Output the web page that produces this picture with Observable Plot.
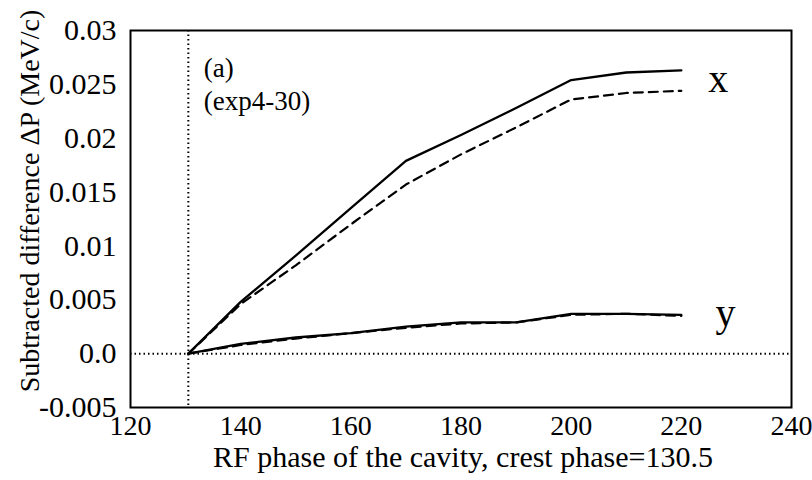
<!DOCTYPE html>
<html>
<head>
<meta charset="utf-8">
<script src="https://cdn.jsdelivr.net/npm/d3@7"></script>
<script src="https://cdn.jsdelivr.net/npm/@observablehq/plot@0.6"></script>
<style>
  html, body { margin: 0; padding: 0; background: #fff; }
  #chart svg { display: block; }
  #chart svg, #chart svg text { font-family: "Liberation Serif", "Times New Roman", serif !important; }
</style>
</head>
<body>
<div id="chart"></div>
<script>
// ---- data ----
const phase      = [130.5, 140, 150, 160, 170, 180, 190, 200, 210, 220];
const xSolid     = [0, 0.0048, 0.0091, 0.0135, 0.0179, 0.0203, 0.0228, 0.0254, 0.0261, 0.0263];
const xDashed    = [0, 0.0046, 0.0082, 0.0120, 0.0157, 0.0185, 0.0210, 0.0236, 0.0242, 0.0244];
const ySolid     = [0, 0.0009, 0.0015, 0.0019, 0.0025, 0.0029, 0.0029, 0.0037, 0.0037, 0.0036];
const yDashed    = [0, 0.0008, 0.0014, 0.0019, 0.0024, 0.0028, 0.0029, 0.0036, 0.0037, 0.0035];
const crestPhase = 130.5;

const xMajor = [120, 140, 160, 180, 200, 220, 240];
const xMinor = [130, 150, 170, 190, 210, 230];
const yMajor = [-0.005, 0, 0.005, 0.01, 0.015, 0.02, 0.025, 0.03];
const yMinor = [-0.0025, 0.0025, 0.0075, 0.0125, 0.0175, 0.0225, 0.0275];
const yTickLabels = ["-0.005", "0.0", "0.005", "0.01", "0.015", "0.02", "0.025", "0.03"];

const xLabel = "RF phase of the cavity, crest phase=130.5";
const yLabel = "Subtracted difference \u0394P (MeV/c)";
const notes = [
  {x: 133.3, y: 0.0265, text: "(a)"},
  {x: 133.3, y: 0.0234, text: "(exp4-30)"}
];
const seriesLabels = [
  {x: 226.7, y: 0.0255, text: "x"},
  {x: 228.0, y: 0.0038, text: "y"}
];

const mk = (ys) => phase.map((p, i) => ({phase: p, v: ys[i]}));

const tickShape = { draw(context, l) { context.moveTo(0, 0); context.lineTo(0, -l); } };
const FONT = "'Liberation Serif', 'Times New Roman', serif";

function ticks(data, channel, anchor, rotate, len) {
  const o = {frameAnchor: anchor, rotate, length: len, anchor: "start", shape: tickShape, stroke: "black", strokeWidth: 1.6};
  o[channel] = d => d;
  return channel === "x" ? Plot.vectorY(data, o) : Plot.vectorX(data, o);
}

const chart = Plot.plot({
  width: 812,
  height: 480,
  marginLeft: 130,
  marginRight: 21,
  marginTop: 30,
  marginBottom: 73,
  style: {fontFamily: FONT, background: "white", color: "black"},
  x: {domain: [120, 240]},
  y: {domain: [-0.005, 0.03]},
  marks: [
    // dotted reference lines
    Plot.ruleY([0], {stroke: "black", strokeWidth: 2, strokeDasharray: "1.5,3"}),
    Plot.ruleX([crestPhase], {stroke: "black", strokeWidth: 2, strokeDasharray: "1.5,3"}),
    // data
    Plot.line(mk(xSolid), {x: "phase", y: "v", stroke: "black", strokeWidth: 2.3}),
    Plot.line(mk(xDashed), {x: "phase", y: "v", stroke: "black", strokeWidth: 2.2, strokeDasharray: "9,6"}),
    Plot.line(mk(yDashed), {x: "phase", y: "v", stroke: "black", strokeWidth: 2.2, strokeDasharray: "9,6"}),
    Plot.line(mk(ySolid), {x: "phase", y: "v", stroke: "black", strokeWidth: 2.3}),
    // frame and inward ticks
    Plot.frame({stroke: "black", strokeWidth: 2}),
    ticks(xMajor, "x", "bottom", 0, 10),
    ticks(xMinor, "x", "bottom", 0, 6),
    ticks(xMajor, "x", "top", 180, 10),
    ticks(xMinor, "x", "top", 180, 6),
    ticks(yMajor, "y", "left", 90, 10),
    ticks(yMinor, "y", "left", 90, 6),
    ticks(yMajor, "y", "right", -90, 10),
    ticks(yMinor, "y", "right", -90, 6),
    // tick labels
    Plot.axisX({ticks: xMajor, tickSize: 0, tickPadding: 8, fontSize: 28, label: null, tickFormat: d => String(d)}),
    Plot.axisY({ticks: yMajor, tickSize: 0, tickPadding: 14, fontSize: 30, label: null,
                tickFormat: d => yTickLabels[yMajor.indexOf(d)]}),
    // axis titles
    Plot.text([xLabel], {frameAnchor: "bottom", dy: 59, dx: 2, fontSize: 30, text: d => d}),
    Plot.text([yLabel], {frameAnchor: "left", textAnchor: "middle", rotate: -90, dx: -100, dy: -18, fontSize: 28, text: d => d}),
    // annotations
    Plot.text(notes, {x: "x", y: "y", text: "text", textAnchor: "start", fontSize: 27}),
    Plot.text(seriesLabels, {x: "x", y: "y", text: "text", fontSize: 40})
  ]
});
document.getElementById("chart").append(chart);
</script>
</body>
</html>
